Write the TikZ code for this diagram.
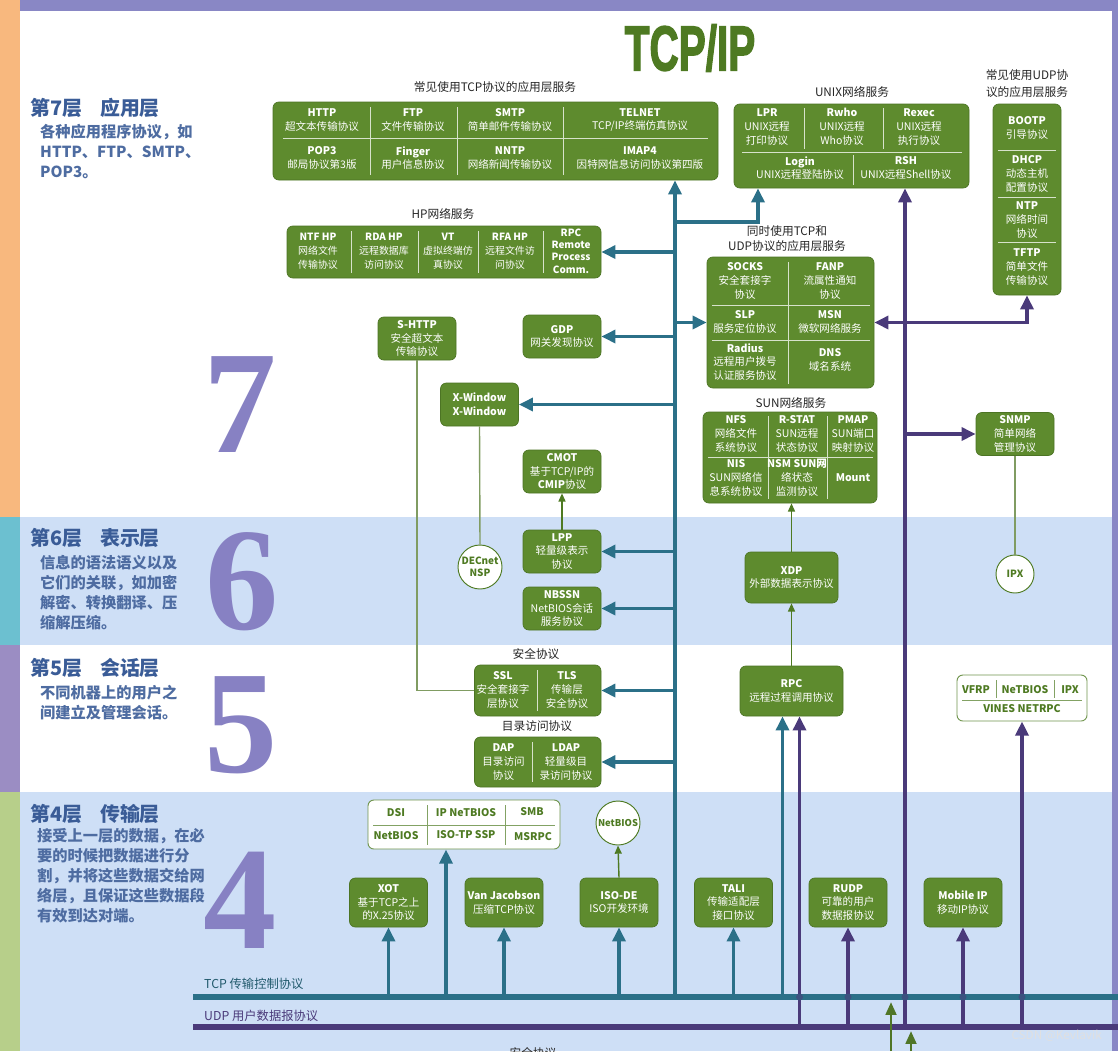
\documentclass[tikz,border=0pt]{standalone}
\usepackage{fontspec}
\setmainfont{Noto Sans CJK SC}
\newfontfamily\numfont{Liberation Serif}
\newfontfamily\titlefont[FakeBold=2.5]{Liberation Sans}
\usetikzlibrary{arrows.meta, fit, calc}
\definecolor{gfill}{HTML}{5E8B2E}
\definecolor{gedge}{HTML}{4C7424}
\definecolor{gdark}{HTML}{4E7A22}
\definecolor{tcpc}{HTML}{2B7088}
\definecolor{udpc}{HTML}{4A3A7A}
\definecolor{bandblue}{HTML}{CEDFF6}
\definecolor{lay7}{HTML}{F8B87E}
\definecolor{lay6}{HTML}{6CC0D0}
\definecolor{lay5}{HTML}{9B8DC3}
\definecolor{lay4}{HTML}{B7CF8A}
\definecolor{topbar}{HTML}{8987C5}
\definecolor{laytext}{HTML}{3A5C97}
\definecolor{bignum}{HTML}{8781C3}
\definecolor{linkc}{HTML}{809C62}

\begin{document}
\begin{tikzpicture}[x=0.03cm, y=-0.03cm,
	gbox/.style={draw=gedge, fill=gfill, rounded corners=5pt, line width=0.6pt},
	wbox/.style={draw=gdark!80, fill=white, rounded corners=5pt, line width=0.8pt},
	celltext/.style={text=white, align=center, font=\fontsize{9}{11.8}\selectfont, inner sep=0pt},
	wcell/.style={text=gdark, font=\fontsize{9}{11}\selectfont\bfseries, inner sep=0pt},
	pbox/.style={gbox, celltext, minimum width=2.34cm, minimum height=1.29cm},
	lowbox/.style={gbox, celltext, minimum width=2.34cm, minimum height=1.47cm},
	ringnode/.style={circle, draw=gdark, fill=white, line width=0.8pt, text=gdark, align=center, font=\fontsize{8.5}{10}\selectfont\bfseries, inner sep=0pt, minimum size=1.32cm},
	divider/.style={draw=white!75!gfill, line width=0.6pt},
	wdivider/.style={draw=gdark!70, line width=0.6pt},
	grouptitle/.style={font=\fontsize{10}{13}\selectfont, text=black!85, align=center, inner sep=0pt},
	laytitle/.style={font=\fontsize{17}{20}\selectfont\bfseries, text=laytext, anchor=west, inner sep=0pt},
	laydesc/.style={font=\fontsize{13}{17}\selectfont\bfseries, text=laytext!90, anchor=north west, align=left, inner sep=0pt},
	bignumber/.style={font=\numfont\bfseries\fontsize{125}{125}\selectfont, text=bignum, inner sep=0pt},
	tcparr/.style={draw=tcpc, line width=3pt, -{Triangle[length=12pt, width=11pt]}},
	udparr/.style={draw=udpc, line width=3pt, -{Triangle[length=12pt, width=11pt]}},
	plainlink/.style={draw=linkc, line width=1.2pt},
	linkarr/.style={draw=gdark, line width=1.2pt, -{Triangle[length=7pt, width=6pt]}},
	greenarr/.style={draw=gfill!85!black, line width=2.5pt, -{Triangle[length=11pt, width=9pt]}}
	]
	
	\useasboundingbox (0,0) rectangle (1118,1051);
	\fill[white] (0,0) rectangle (1118,1051);
	\fill[bandblue] (20,517) rectangle (1112,645);
	\fill[bandblue] (20,792) rectangle (1112,1051);
	\fill[topbar] (20,0) rectangle (1118,11);
	\fill[lay7] (0,0) rectangle (20,517);
	\fill[lay6] (0,517) rectangle (20,645);
	\fill[lay5] (0,645) rectangle (20,792);
	\fill[lay4] (0,792) rectangle (20,1051);
	\fill[topbar] (1112,0) rectangle (1118,1051);
	
	\node[laytitle] (t7) at (30,108) {第7层\hspace{0.9em}应用层};
	\node[laydesc] (d7) at (40,124) {各种应用程序协议，如\\HTTP、FTP、SMTP、\\POP3。};
	\node[laytitle] (t6) at (30,538) {第6层\hspace{0.9em}表示层};
	\node[laydesc] (d6) at (40,555) {信息的语法语义以及\\它们的关联，如加密\\解密、转换翻译、压\\缩解压缩。};
	\node[laytitle] (t5) at (30,668) {第5层\hspace{0.9em}会话层};
	\node[laydesc] (d5) at (40,685) {不同机器上的用户之\\间建立及管理会话。};
	\node[laytitle] (t4) at (30,814) {第4层\hspace{0.9em}传输层};
	\node[laydesc] (d4) at (37,828) {接受上一层的数据，在必\\要的时候把数据进行分\\割，并将这些数据交给网\\络层，且保证这些数据段\\有效到达对端。};
	
	\node[bignumber] (n7) at (240,405) {7};
	\node[bignumber] (n6) at (242,582) {6};
	\node[bignumber] (n5) at (241,725) {5};
	\node[bignumber] (n4) at (240,900) {4};
	
	\node[font=\titlefont\bfseries\fontsize{54}{54}\selectfont, text=gdark, xscale=0.64, inner sep=0pt] (title) at (690,48) {TCP/IP};
	
	\coordinate (tcpL) at (193,997);
	\coordinate (tcpR) at (1118,997);
	\coordinate (udpL) at (193,1027);
	\coordinate (udpR) at (1118,1027);
	\coordinate (ttrunk) at (675,997);
	\coordinate (utrunk) at (905,1027);
	\coordinate (lprx) at (758,222);
	
	% application layer groups
	\node[gbox, inner sep=0pt, fit={(273,102) (718,180)}] (tcpapp) {};
	\node[grouptitle] (tcphead) at (495,87) {常见使用TCP协议的应用层服务};
	\draw[divider] (283,138) -- (708,138);
	\foreach \x in {370,457,563} \draw[divider] (\x,107) -- (\x,175);
	\node[celltext] at (322,120) {\textbf{HTTP}\\超文本传输协议};
	\node[celltext] at (413,120) {\textbf{FTP}\\文件传输协议};
	\node[celltext] at (510,120) {\textbf{SMTP}\\简单邮件传输协议};
	\node[celltext] at (640,120) {\textbf{TELNET}\\TCP/IP终端仿真协议};
	\node[celltext] at (322,158) {\textbf{POP3}\\邮局协议第3版};
	\node[celltext] at (413,158) {\textbf{Finger}\\用户信息协议};
	\node[celltext] at (510,158) {\textbf{NNTP}\\网络新闻传输协议};
	\node[celltext] at (640,158) {\textbf{IMAP4}\\因特网信息访问协议第四版};
	
	\node[gbox, inner sep=0pt, fit={(734,104) (969,188)}] (unix) {};
	\node[grouptitle] (unixhead) at (852,92) {UNIX网络服务};
	\draw[divider] (742,152) -- (962,152);
	\draw[divider] (804,108) -- (804,149);
	\draw[divider] (883,108) -- (883,149);
	\draw[divider] (853,155) -- (853,185);
	\node[celltext] at (767,127) {\textbf{LPR}\\UNIX远程\\打印协议};
	\node[celltext] at (842,127) {\textbf{Rwho}\\UNIX远程\\Who协议};
	\node[celltext] at (919,127) {\textbf{Rexec}\\UNIX远程\\执行协议};
	\node[celltext] at (800,168) {\textbf{Login}\\UNIX远程登陆协议};
	\node[celltext] at (906,168) {\textbf{RSH}\\UNIX远程Shell协议};
	
	\node[gbox, inner sep=0pt, fit={(993,104) (1061,295)}] (udpbox) {};
	\node[grouptitle, font=\fontsize{10}{14.5}\selectfont] (udphead) at (1027,84) {常见使用UDP协\\议的应用层服务};
	\foreach \y in {150,197,242} \draw[divider] (998,\y) -- (1056,\y);
	\node[celltext] at (1027,128) {\textbf{BOOTP}\\引导协议};
	\node[celltext] at (1027,174) {\textbf{DHCP}\\动态主机\\配置协议};
	\node[celltext] at (1027,220) {\textbf{NTP}\\网络时间\\协议};
	\node[celltext] at (1027,267) {\textbf{TFTP}\\简单文件\\传输协议};
	
	\node[gbox, inner sep=0pt, fit={(287,226) (601,278)}] (hp) {};
	\node[grouptitle] (hphead) at (443,214) {HP网络服务};
	\foreach \x in {351,418,478,543} \draw[divider] (\x,231) -- (\x,273);
	\node[celltext, font=\fontsize{8.5}{12}\selectfont] at (318,251) {\textbf{NTF HP}\\网络文件\\传输协议};
	\node[celltext, font=\fontsize{8.5}{12}\selectfont] at (384,251) {\textbf{RDA HP}\\远程数据库\\访问协议};
	\node[celltext, font=\fontsize{8.5}{12}\selectfont] at (448,251) {\textbf{VT}\\虚拟终端仿\\真协议};
	\node[celltext, font=\fontsize{8.5}{12}\selectfont] at (510,251) {\textbf{RFA HP}\\远程文件访\\问协议};
	\node[celltext, font=\fontsize{8.5}{10.5}\selectfont\bfseries] at (571,251) {RPC\\Remote\\Process\\Comm.};
	
	\node[gbox, inner sep=0pt, fit={(707,257) (874,388)}] (mixed) {};
	\node[grouptitle, font=\fontsize{10}{12.8}\selectfont] (mixedhead) at (787,239) {同时使用TCP和\\UDP协议的应用层服务};
	\draw[divider] (788,262) -- (788,384);
	\draw[divider] (712,305) -- (870,305);
	\draw[divider] (712,340) -- (870,340);
	\node[celltext] at (745,281) {\textbf{SOCKS}\\安全套接字\\协议};
	\node[celltext] at (830,281) {\textbf{FANP}\\流属性通知\\协议};
	\node[celltext] at (745,322) {\textbf{SLP}\\服务定位协议};
	\node[celltext] at (830,322) {\textbf{MSN}\\微软网络服务};
	\node[celltext] at (745,362) {\textbf{Radius}\\远程用户拨号\\认证服务协议};
	\node[celltext] at (830,360) {\textbf{DNS}\\域名系统};
	
	\node[gbox, inner sep=0pt, fit={(703,412) (877,503)}] (sun) {};
	\node[grouptitle] (sunhead) at (791,403) {SUN网络服务};
	\draw[divider] (708,457) -- (873,457);
	\draw[divider] (768,416) -- (768,499);
	\draw[divider] (827,416) -- (827,499);
	\node[celltext] at (736,434) {\textbf{NFS}\\网络文件\\系统协议};
	\node[celltext] at (797,434) {\textbf{R-STAT}\\SUN远程\\状态协议};
	\node[celltext] at (853,434) {\textbf{PMAP}\\SUN端口\\映射协议};
	\node[celltext] at (736,478) {\textbf{NIS}\\SUN网络信\\息系统协议};
	\node[celltext] at (797,478) {\textbf{NSM SUN网}\\络状态\\监测协议};
	\node[celltext] at (853,478) {\textbf{Mount}};
	
	\node[pbox] (shttp) at (417,338.5) {\textbf{S-HTTP}\\安全超文本\\传输协议};
	\node[pbox] (gdp) at (562,336.5) {\textbf{GDP}\\网关发现协议};
	\node[pbox] (xwin) at (479.5,404.5) {\textbf{X-Window}\\\textbf{X-Window}};
	\node[pbox] (cmot) at (562,471.5) {\textbf{CMOT}\\基于TCP/IP的\\\textbf{CMIP}协议};
	\node[pbox] (snmp) at (1015,434) {\textbf{SNMP}\\简单网络\\管理协议};
	
	% presentation layer
	\node[pbox] (lpp) at (562,551.5) {\textbf{LPP}\\轻量级表示\\协议};
	\node[pbox] (nbssn) at (562,608.5) {\textbf{NBSSN}\\NetBIOS会话\\服务协议};
	\node[ringnode] (decnet) at (480,567) {DECnet\\NSP};
	\node[pbox, minimum width=2.79cm, minimum height=1.53cm] (xdp) at (791.5,577.5) {\textbf{XDP}\\外部数据表示协议};
	\node[ringnode, minimum size=1.14cm] (ipx) at (1015,574) {IPX};
	
	% session layer
	\node[gbox, inner sep=0pt, fit={(474.5,665) (601,716)}] (ssl) {};
	\node[grouptitle] (sslhead) at (536,654) {安全协议};
	\draw[divider] (537.5,670) -- (537.5,711);
	\node[celltext] at (503,690) {\textbf{SSL}\\安全套接字\\层协议};
	\node[celltext] at (567,690) {\textbf{TLS}\\传输层\\安全协议};
	
	\node[gbox, inner sep=0pt, fit={(474.5,737) (601,787)}] (dap) {};
	\node[grouptitle] (daphead) at (537,726) {目录访问协议};
	\draw[divider] (532.6,742) -- (532.6,782);
	\node[celltext] at (503.5,762) {\textbf{DAP}\\目录访问\\协议};
	\node[celltext] at (566,762) {\textbf{LDAP}\\轻量级目\\录访问协议};
	
	\node[pbox, minimum width=3.09cm, minimum height=1.5cm] (rpc) at (791.5,691) {\textbf{RPC}\\远程过程调用协议};
	
	\node[wbox, inner sep=0pt, fit={(957,675) (1087,721)}] (vines) {};
	\draw[wdivider] (962,700) -- (1082,700);
	\draw[wdivider] (996,680) -- (996,698);
	\draw[wdivider] (1054,680) -- (1054,698);
	\node[wcell] at (976,690) {VFRP};
	\node[wcell] at (1025,690) {NeTBIOS};
	\node[wcell] at (1070,690) {IPX};
	\node[wcell] at (1022,709) {VINES NETRPC};
	
	% transport layer
	\node[wbox, inner sep=0pt, fit={(368,800) (560,849)}] (dsi) {};
	\draw[wdivider] (373,825) -- (555,825);
	\draw[wdivider] (427,805) -- (427,845);
	\draw[wdivider] (505,805) -- (505,845);
	\node[wcell] at (396,813) {DSI};
	\node[wcell] at (466,813) {IP NeTBIOS};
	\node[wcell] at (532,812) {SMB};
	\node[wcell] at (396,836) {NetBIOS};
	\node[wcell] at (466,835) {ISO-TP SSP};
	\node[wcell] at (533,837) {MSRPC};
	\node[ringnode, font=\fontsize{8}{10}\selectfont\bfseries] (netbios) at (618,823) {NetBIOS};
	
	\node[lowbox] (xot) at (388.5,902.5) {\textbf{XOT}\\基于TCP之上\\的X.25协议};
	\node[lowbox] (vj) at (504,902.5) {\textbf{Van Jacobson}\\压缩TCP协议};
	\node[lowbox] (isode) at (619,902.5) {\textbf{ISO-DE}\\ISO开发环境};
	\node[lowbox] (tali) at (733.5,902.5) {\textbf{TALI}\\传输适配层\\接口协议};
	\node[lowbox] (rudp) at (848,902.5) {\textbf{RUDP}\\可靠的用户\\数据报协议};
	\node[lowbox] (mip) at (963,902.5) {\textbf{Mobile IP}\\移动IP协议};
	
	\coordinate (dsiT) at ($(dsi.south)+(-18,0)$);
	\coordinate (rpcT) at ($(rpc.south)+(-9,0)$);
	\coordinate (rpcU) at ($(rpc.south)+(8,0)$);
	
	% thin links
	\draw[plainlink] (shttp.south) |- (ssl.west);
	\draw[plainlink] (xwin.south) -- (decnet.north);
	\draw[plainlink] (snmp.south) -- (ipx.north);
	\draw[linkarr] (lpp.north) -- (cmot.south);
	\draw[linkarr] (xdp.north) -- (xdp.north |- sun.south);
	\draw[linkarr] (rpc.north) -- (xdp.south);
	\draw[linkarr] (isode.north) -- (netbios.south);
	
	% udp side
	\foreach \n in {rpcU, rudp.south, mip.south, vines.south} \draw[udparr] (\n |- udpL) -- (\n);
	\draw[udparr] (utrunk) -- (utrunk |- unix.south);
	\draw[udparr] (utrunk |- mixed.east) -- (mixed.east);
	\draw[udparr] (utrunk |- mixed.east) -| (udpbox.south);
	\draw[udparr] (utrunk |- snmp.west) -- (snmp.west);
	
	% tcp side
	\foreach \n in {xot.south, dsiT, vj.south, isode.south, tali.south, rpcT} \draw[tcparr] (\n |- tcpL) -- (\n);
	\draw[tcparr] (ttrunk) -- (ttrunk |- tcpapp.south);
	\draw[tcparr] (ttrunk |- lprx) -- (lprx) -- (lprx |- unix.south);
	\foreach \n in {hp, gdp, xwin, lpp, nbssn, ssl, dap} \draw[tcparr] (ttrunk |- \n.east) -- (\n.east);
	\draw[tcparr] (ttrunk |- mixed.west) -- (mixed.west);
	
	\draw[udpc, line width=5pt] (udpL) -- (udpR);
	\draw[tcpc, line width=5pt] (tcpL) -- (tcpR);
	\foreach \n in {rpcU, rudp.south, utrunk, mip.south, vines.south} \fill[udpc!55!tcpc] (\n |- tcpL) circle (3pt);
	\node[anchor=west, font=\fontsize{10.5}{12}\selectfont, text=tcpc!80!black, inner sep=0pt] (tcplab) at (204,984) {TCP 传输控制协议};
	\node[anchor=west, font=\fontsize{10.5}{12}\selectfont, text=udpc, inner sep=0pt] (udplab) at (204,1016) {UDP 用户数据报协议};
	
	\coordinate (g1) at (891,1051);
	\coordinate (g1t) at (891,1002);
	\coordinate (g2) at (911,1051);
	\coordinate (g2t) at (911,1031);
	\draw[greenarr] (g1) -- (g1t);
	\draw[greenarr] (g2) -- (g2t);
	
	\node[grouptitle] (nethead) at (533,1053) {安全协议};
	\node[anchor=east, font=\fontsize{10}{12}\selectfont, text=black!12, inner sep=0pt] (csdn) at (1102,1036) {CSDN @Kevlavik};
	
\end{tikzpicture}
\end{document}
